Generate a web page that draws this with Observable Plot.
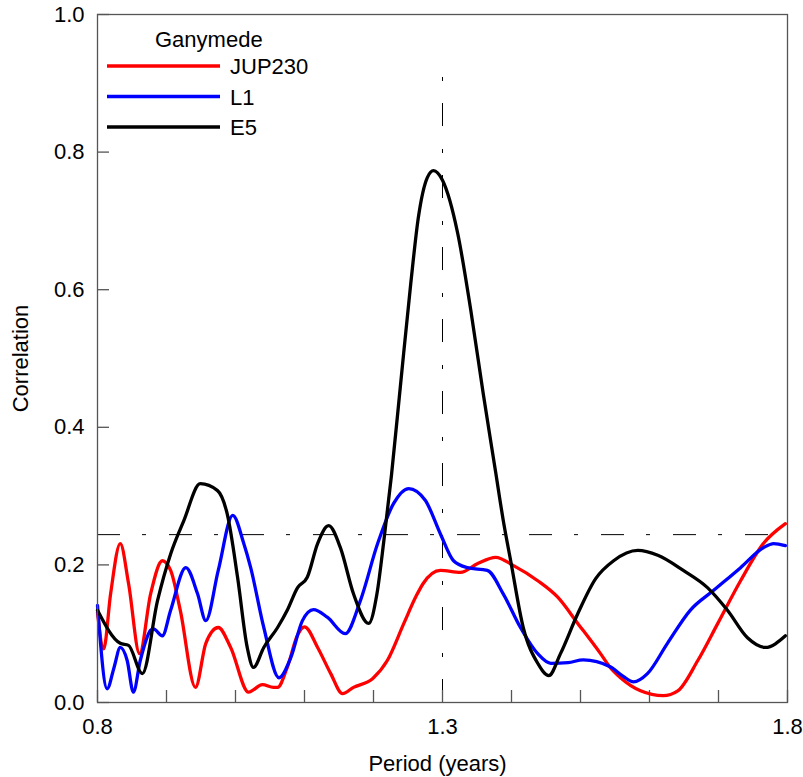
<!DOCTYPE html>
<html>
<head>
<meta charset="utf-8">
<script src="https://cdn.jsdelivr.net/npm/d3@7"></script>
<script src="https://cdn.jsdelivr.net/npm/@observablehq/plot@0.6"></script>
<style>
  html, body { margin: 0; padding: 0; background: #fff; }
  #wrap { position: relative; width: 803px; height: 777px; font-family: "Liberation Sans", Arial, sans-serif; }
  #legend { position: absolute; left: 0; top: 0; }
</style>
</head>
<body>
<div id="wrap"></div>
<script>
// ---- Data ----
const jupPeriod = [0.800,0.809,0.819,0.833,0.845,0.861,0.877,0.894,0.906,0.920,0.942,0.957,0.975,0.993,1.019,1.039,1.055,1.061,1.075,1.090,1.100,1.119,1.138,1.155,1.171,1.199,1.220,1.244,1.262,1.272,1.297,1.326,1.351,1.377,1.403,1.438,1.467,1.496,1.529,1.543,1.558,1.587,1.620,1.641,1.670,1.699,1.732,1.765,1.797];
const jupCorr   = [0.131,0.078,0.158,0.231,0.173,0.071,0.158,0.206,0.192,0.134,0.022,0.086,0.109,0.080,0.015,0.026,0.022,0.022,0.051,0.098,0.110,0.080,0.042,0.013,0.022,0.035,0.061,0.115,0.155,0.173,0.192,0.189,0.202,0.211,0.199,0.177,0.153,0.115,0.071,0.051,0.036,0.017,0.010,0.017,0.061,0.115,0.177,0.231,0.260];

const l1Period = [0.800,0.814,0.824,0.833,0.843,0.852,0.862,0.877,0.881,0.894,0.906,0.928,0.945,0.957,0.975,0.996,1.012,1.022,1.041,1.063,1.080,1.097,1.113,1.133,1.159,1.181,1.206,1.229,1.251,1.275,1.297,1.316,1.336,1.365,1.388,1.413,1.438,1.457,1.482,1.504,1.543,1.562,1.577,1.597,1.626,1.659,1.693,1.732,1.765,1.780,1.797];
const l1Corr   = [0.141,0.020,0.051,0.080,0.061,0.015,0.061,0.105,0.107,0.097,0.134,0.196,0.158,0.119,0.192,0.272,0.231,0.196,0.109,0.036,0.065,0.119,0.135,0.124,0.100,0.148,0.231,0.289,0.311,0.294,0.245,0.206,0.196,0.192,0.158,0.109,0.071,0.057,0.058,0.062,0.052,0.038,0.030,0.042,0.086,0.134,0.163,0.196,0.225,0.231,0.228];

const e5Period = [0.800,0.833,0.845,0.865,0.887,0.906,0.925,0.949,0.974,0.988,1.003,1.017,1.026,1.041,1.061,1.075,1.090,1.104,1.119,1.135,1.152,1.171,1.193,1.205,1.215,1.226,1.239,1.254,1.265,1.278,1.287,1.300,1.322,1.341,1.359,1.377,1.388,1.399,1.417,1.438,1.454,1.471,1.496,1.522,1.548,1.583,1.612,1.649,1.684,1.713,1.742,1.768,1.797];
const e5Corr   = [0.134,0.086,0.083,0.042,0.148,0.216,0.264,0.318,0.308,0.274,0.182,0.080,0.051,0.080,0.109,0.134,0.167,0.182,0.231,0.257,0.225,0.158,0.115,0.158,0.235,0.330,0.460,0.609,0.705,0.763,0.773,0.759,0.682,0.570,0.449,0.335,0.265,0.205,0.109,0.057,0.039,0.071,0.129,0.180,0.206,0.221,0.214,0.192,0.167,0.134,0.094,0.080,0.097];

const seriesNames  = ["JUP230", "L1", "E5"];
const seriesColors = ["#ff0000", "#0000ff", "#000000"];
const legendTitle  = "Ganymede";

const xTicks      = [0.8,0.9,1.0,1.1,1.2,1.3,1.4,1.5,1.6,1.7,1.8];
const xTickLabels = [0.8, 1.3, 1.8];
const yTicks      = [0,0.2,0.4,0.6,0.8,1.0];

const thresholdCorr = 0.244;   // horizontal dash-dot line
const markerPeriod  = 1.3;     // vertical dash-dot line
const markerTop     = 0.91;

const toRows = (xs, ys, name) => xs.map((x, i) => ({period: x, corr: ys[i], series: name}));
const rows = [
  ...toRows(jupPeriod, jupCorr, "JUP230"),
  ...toRows(l1Period, l1Corr, "L1"),
  ...toRows(e5Period, e5Corr, "E5")
];

const font = "'Liberation Sans', Arial, sans-serif";
const fs = 22;
const dashDot = "23,22,4,23";

const chart = Plot.plot({
  width: 803,
  height: 777,
  marginLeft: 97,
  marginRight: 16,
  marginTop: 14,
  marginBottom: 75,
  style: {fontFamily: font, fontSize: fs + "px", color: "#000", background: "#fff"},
  x: {domain: [0.8, 1.8]},
  y: {domain: [0, 1]},
  color: {domain: seriesNames, range: seriesColors},
  marks: [
    // reference lines
    Plot.ruleY([thresholdCorr], {x1: 0.8, x2: 1.8, stroke: "#000", strokeWidth: 1, strokeDasharray: dashDot}),
    Plot.ruleX([markerPeriod], {y1: 0, y2: markerTop, stroke: "#000", strokeWidth: 1, strokeDasharray: dashDot}),
    // inward ticks
    Plot.tickX(xTicks, {x: d => d, insetTop: 688 - 12, stroke: "#555", strokeWidth: 1.3}),
    Plot.tickY(yTicks, {y: d => d, insetRight: 690 - 12, stroke: "#555", strokeWidth: 1.3}),
    // tick labels
    Plot.axisX({ticks: xTickLabels, tickSize: 0, tickPadding: 16, tickFormat: d3.format(".1f"), fontSize: fs, label: null}),
    Plot.axisY({ticks: yTicks, tickSize: 0, tickPadding: 13, tickFormat: d3.format(".1f"), fontSize: fs, label: null}),
    // axis titles
    Plot.text(["Period (years)"], {frameAnchor: "bottom", dy: 68, dx: -5, fontSize: fs, fill: "#000"}),
    Plot.text(["Correlation"], {frameAnchor: "left", textAnchor: "middle", rotate: -90, dx: -77, dy: 0, fontSize: fs, fill: "#000"}),
    // data
    Plot.line(rows, {x: "period", y: "corr", z: "series", stroke: "series", strokeWidth: 3.3, curve: "monotone-x"}),
    Plot.frame({stroke: "#555", strokeWidth: 1.3})
  ]
});

const wrap = document.getElementById("wrap");
wrap.appendChild(chart);

// Legend overlay
const ns = "http://www.w3.org/2000/svg";
const leg = document.createElementNS(ns, "svg");
leg.setAttribute("id", "legend");
leg.setAttribute("width", 320);
leg.setAttribute("height", 150);
leg.setAttribute("style", "position:absolute;left:0;top:0;font-family:" + font);
const title = document.createElementNS(ns, "text");
title.setAttribute("x", 155);
title.setAttribute("y", 47);
title.setAttribute("font-size", fs);
title.textContent = legendTitle;
leg.appendChild(title);
seriesNames.forEach((name, i) => {
  const yy = 66 + i * 30.5;
  const ln = document.createElementNS(ns, "line");
  ln.setAttribute("x1", 107); ln.setAttribute("x2", 220);
  ln.setAttribute("y1", yy); ln.setAttribute("y2", yy);
  ln.setAttribute("stroke", seriesColors[i]);
  ln.setAttribute("stroke-width", 3.3);
  leg.appendChild(ln);
  const t = document.createElementNS(ns, "text");
  t.setAttribute("x", 230);
  t.setAttribute("y", yy + 8);
  t.setAttribute("font-size", fs);
  t.textContent = name;
  leg.appendChild(t);
});
wrap.appendChild(leg);
</script>
</body>
</html>
